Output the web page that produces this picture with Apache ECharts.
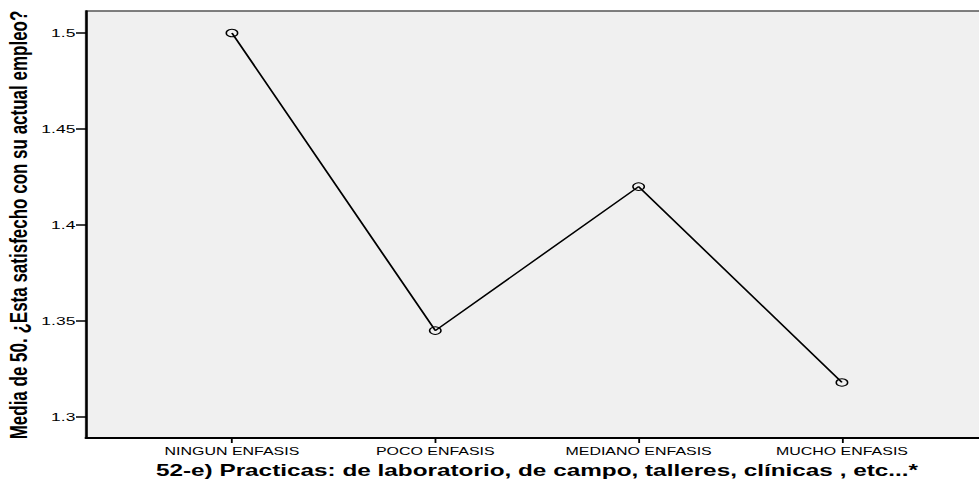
<!DOCTYPE html>
<html>
<head>
<meta charset="utf-8">
<script src="https://cdn.jsdelivr.net/npm/echarts@6/dist/echarts.min.js"></script>
<style>
  html, body { margin: 0; padding: 0; background: #fff; overflow: hidden; }
  /* el grafico original esta estirado en horizontal */
  #chart { width: 644.08px; height: 487px; transform: scaleX(1.52); transform-origin: 0 0; }
</style>
</head>
<body>
<div id="chart"></div>
<script>
// categorias y medias
var categorias = ['NINGUN ENFASIS', 'POCO ENFASIS', 'MEDIANO ENFASIS', 'MUCHO ENFASIS'];
var medias = [1.5, 1.345, 1.42, 1.318];
var yMin = 1.3, yMax = 1.5, yPaso = 0.05;

var tituloY = 'Media de 50. ¿Esta satisfecho con su actual empleo?';
var tituloX = '52-e) Practicas: de laboratorio, de campo, talleres, clínicas , etc...*';

var myChart = echarts.init(document.getElementById('chart'), null, { renderer: 'svg' });

var option = {
  animation: false,
  grid: [
    // fondo gris y ejes exteriores
    { left: 56.58, top: 11, right: -2, bottom: 49, show: true, backgroundColor: '#f0f0f0',
      borderColor: '#555', borderWidth: 1.5, outerBoundsMode: 'none' },
    // zona de datos
    { left: 85.72, width: 535.07, top: 33, bottom: 70, outerBoundsMode: 'none' }
  ],
  xAxis: [
    { gridIndex: 0, type: 'value', min: 0, max: 1,
      axisLine: { show: true, lineStyle: { color: '#000', width: 2 } },
      axisTick: { show: false }, axisLabel: { show: false }, splitLine: { show: false } },
    { gridIndex: 1, type: 'category', data: categorias, offset: 21,
      name: tituloX, nameLocation: 'middle', nameGap: 23,
      nameTextStyle: { fontFamily: 'Liberation Sans, Arial', fontSize: 16, fontWeight: 'bold', color: '#000' },
      axisLine: { show: false },
      axisTick: { show: true, alignWithLabel: true, length: 5, lineStyle: { color: '#000', width: 1.2 } },
      axisLabel: { color: '#000', fontFamily: 'Liberation Sans, Arial', fontSize: 10.5, margin: 8 } }
  ],
  yAxis: [
    { gridIndex: 0, type: 'value', min: 0, max: 1,
      axisLine: { show: true, lineStyle: { color: '#000', width: 1.5 } },
      axisTick: { show: false }, axisLabel: { show: false }, splitLine: { show: false } },
    { gridIndex: 1, type: 'value', min: yMin, max: yMax, interval: yPaso, offset: 29.14,
      axisLine: { show: false },
      axisTick: { show: true, length: 6.6, lineStyle: { color: '#000', width: 1.5 } },
      axisLabel: { color: '#000', fontFamily: 'Liberation Sans, Arial', fontSize: 11.5, margin: 7 },
      splitLine: { show: false } }
  ],
  graphic: [
    {
      type: 'text',
      x: 12.3,
      y: 225,
      rotation: Math.PI / 2,
      scaleY: 0.9,
      style: {
        text: tituloY,
        fontFamily: 'Liberation Sans, Arial',
        fontSize: 17,
        fontWeight: 'bold',
        fill: '#000',
        align: 'center',
        verticalAlign: 'middle'
      }
    }
  ],
  series: [
    {
      type: 'line',
      xAxisIndex: 1,
      yAxisIndex: 1,
      data: medias,
      symbol: 'circle',
      symbolSize: 7.5,
      itemStyle: { color: 'rgba(0,0,0,0)', borderColor: '#000', borderWidth: 1 },
      lineStyle: { color: '#000', width: 1.3 }
    }
  ]
};
myChart.setOption(option);
</script>
</body>
</html>
